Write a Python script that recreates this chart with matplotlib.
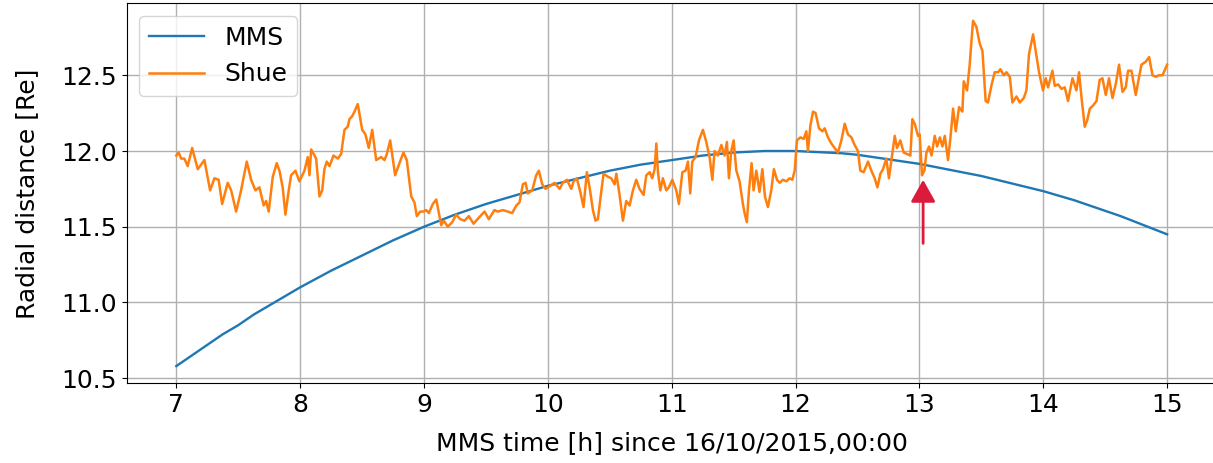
import matplotlib
matplotlib.use("Agg")
import matplotlib.pyplot as plt

# MMS radial distance
mms_t = [7.0, 7.125, 7.25, 7.375, 7.5, 7.625, 7.75, 7.875, 8.0, 8.125, 8.25, 8.375,
         8.5, 8.625, 8.75, 8.875, 9.0, 9.125, 9.25, 9.375, 9.5, 9.625, 9.75, 9.875,
         10.0, 10.125, 10.25, 10.375, 10.5, 10.625, 10.75, 10.875, 11.0, 11.125,
         11.25, 11.375, 11.5, 11.625, 11.75, 11.875, 12.0, 12.125, 12.25, 12.375,
         12.5, 12.625, 12.75, 12.875, 13.0, 13.125, 13.25, 13.375, 13.5, 13.625,
         13.75, 13.875, 14.0, 14.125, 14.25, 14.375, 14.5, 14.625, 14.75, 14.875, 15.0]
mms_r = [10.58, 10.65, 10.72, 10.79, 10.85, 10.92, 10.98, 11.04, 11.10, 11.155,
         11.21, 11.26, 11.31, 11.36, 11.41, 11.455, 11.50, 11.54, 11.58, 11.615,
         11.65, 11.68, 11.71, 11.74, 11.77, 11.795, 11.82, 11.845, 11.87, 11.89,
         11.91, 11.925, 11.94, 11.955, 11.97, 11.98, 11.99, 11.995, 12.00, 12.00,
         12.00, 11.995, 11.99, 11.985, 11.975, 11.96, 11.945, 11.93, 11.915, 11.895,
         11.875, 11.855, 11.835, 11.81, 11.785, 11.76, 11.735, 11.705, 11.675, 11.64,
         11.605, 11.57, 11.53, 11.49, 11.45]

# Shue model magnetopause distance
shue_t = [7.000, 7.019, 7.039, 7.065, 7.092, 7.128, 7.173, 7.227, 7.273, 7.308,
          7.342, 7.370, 7.415, 7.443, 7.483, 7.523, 7.569, 7.604, 7.639, 7.671,
          7.706, 7.725, 7.746, 7.779, 7.811, 7.833, 7.859, 7.881, 7.906, 7.927,
          7.962, 7.994, 8.035, 8.061, 8.075, 8.089, 8.129, 8.156, 8.178, 8.196,
          8.215, 8.237, 8.269, 8.304, 8.331, 8.358, 8.384, 8.398, 8.420, 8.439,
          8.465, 8.501, 8.527, 8.554, 8.582, 8.614, 8.654, 8.681, 8.700, 8.727,
          8.767, 8.802, 8.834, 8.861, 8.897, 8.923, 8.942, 8.969, 8.996, 9.018,
          9.039, 9.071, 9.099, 9.139, 9.160, 9.192, 9.228, 9.260, 9.292, 9.327,
          9.362, 9.400, 9.443, 9.489, 9.523, 9.569, 9.596, 9.637, 9.677, 9.712,
          9.745, 9.771, 9.798, 9.820, 9.838, 9.874, 9.906, 9.927, 9.955, 9.981,
          10.019, 10.054, 10.095, 10.121, 10.154, 10.189, 10.208, 10.234, 10.262, 10.288,
          10.315, 10.337, 10.364, 10.385, 10.404, 10.431, 10.450, 10.485, 10.512, 10.539,
          10.553, 10.579, 10.606, 10.633, 10.660, 10.687, 10.714, 10.740, 10.773, 10.795,
          10.822, 10.843, 10.862, 10.876, 10.889, 10.908, 10.929, 10.956, 10.977, 11.005,
          11.037, 11.058, 11.086, 11.112, 11.131, 11.150, 11.166, 11.193, 11.220, 11.252,
          11.279, 11.306, 11.328, 11.346, 11.373, 11.401, 11.427, 11.446, 11.462, 11.481,
          11.500, 11.522, 11.548, 11.575, 11.591, 11.607, 11.624, 11.645, 11.661, 11.683,
          11.709, 11.732, 11.753, 11.777, 11.804, 11.825, 11.850, 11.872, 11.898, 11.926,
          11.952, 11.974, 11.993, 12.011, 12.039, 12.066, 12.087, 12.100, 12.120, 12.141,
          12.162, 12.189, 12.217, 12.235, 12.262, 12.289, 12.316, 12.342, 12.370, 12.397,
          12.423, 12.451, 12.477, 12.504, 12.523, 12.550, 12.585, 12.612, 12.639, 12.661,
          12.685, 12.706, 12.733, 12.754, 12.782, 12.801, 12.819, 12.846, 12.873, 12.900,
          12.927, 12.943, 12.962, 12.989, 13.002, 13.021, 13.040, 13.057, 13.078, 13.098,
          13.124, 13.143, 13.165, 13.186, 13.205, 13.231, 13.251, 13.272, 13.294, 13.320,
          13.347, 13.358, 13.385, 13.406, 13.433, 13.460, 13.487, 13.509, 13.535, 13.554,
          13.581, 13.608, 13.635, 13.654, 13.681, 13.703, 13.730, 13.751, 13.784, 13.810,
          13.843, 13.864, 13.885, 13.918, 13.939, 13.966, 13.998, 14.020, 14.039, 14.074,
          14.093, 14.120, 14.147, 14.174, 14.200, 14.236, 14.268, 14.289, 14.308, 14.335,
          14.354, 14.376, 14.402, 14.430, 14.456, 14.478, 14.505, 14.531, 14.559, 14.585,
          14.612, 14.640, 14.666, 14.685, 14.712, 14.747, 14.774, 14.793, 14.828, 14.855,
          14.882, 14.909, 14.935, 14.963, 15.000]
shue_r = [11.97, 11.99, 11.95, 11.95, 11.90, 12.02, 11.88, 11.94, 11.74, 11.82,
          11.81, 11.65, 11.79, 11.74, 11.60, 11.74, 11.93, 11.81, 11.74, 11.76,
          11.64, 11.67, 11.60, 11.83, 11.92, 11.87, 11.76, 11.58, 11.73, 11.84,
          11.87, 11.80, 11.87, 11.96, 11.84, 12.01, 11.95, 11.70, 11.74, 11.88,
          11.93, 11.90, 11.97, 11.95, 11.98, 12.14, 12.16, 12.21, 12.23, 12.26,
          12.31, 12.14, 12.11, 12.02, 12.14, 11.94, 11.96, 11.94, 11.98, 12.07,
          11.84, 11.92, 11.99, 11.94, 11.70, 11.66, 11.57, 11.60, 11.60, 11.61,
          11.59, 11.65, 11.68, 11.51, 11.54, 11.50, 11.53, 11.58, 11.55, 11.54,
          11.57, 11.52, 11.56, 11.60, 11.55, 11.61, 11.60, 11.61, 11.60, 11.59,
          11.64, 11.66, 11.78, 11.79, 11.72, 11.74, 11.84, 11.87, 11.78, 11.75,
          11.77, 11.79, 11.75, 11.79, 11.81, 11.75, 11.80, 11.82, 11.73, 11.63,
          11.86, 11.76, 11.61, 11.54, 11.55, 11.73, 11.85, 11.83, 11.82, 11.78,
          11.85, 11.71, 11.54, 11.67, 11.64, 11.74, 11.81, 11.75, 11.71, 11.84,
          11.86, 11.82, 11.88, 12.05, 11.86, 11.74, 11.82, 11.74, 11.76, 11.81,
          11.74, 11.65, 11.86, 11.87, 11.93, 11.72, 11.93, 11.96, 12.07, 12.14,
          12.06, 11.96, 11.81, 12.00, 11.97, 12.04, 11.97, 12.06, 11.82, 12.00,
          12.07, 11.87, 11.80, 11.65, 11.58, 11.53, 11.74, 11.92, 11.74, 11.87,
          11.73, 11.88, 11.70, 11.63, 11.74, 11.88, 11.81, 11.79, 11.81, 11.80,
          11.82, 11.81, 11.87, 12.07, 12.09, 12.08, 12.13, 12.00, 12.17, 12.26,
          12.25, 12.15, 12.13, 12.15, 12.09, 12.05, 12.02, 11.99, 12.07, 12.18,
          12.11, 12.09, 12.04, 12.00, 11.87, 11.86, 11.93, 11.87, 11.82, 11.76,
          11.85, 11.88, 11.95, 11.82, 11.99, 12.10, 12.02, 12.07, 11.99, 11.98,
          11.97, 12.21, 12.18, 12.10, 12.11, 11.84, 11.87, 11.99, 12.03, 11.97,
          12.10, 12.03, 12.09, 12.03, 12.10, 11.94, 12.09, 12.28, 12.13, 12.29,
          12.26, 12.46, 12.40, 12.57, 12.86, 12.82, 12.71, 12.66, 12.33, 12.32,
          12.43, 12.52, 12.52, 12.54, 12.50, 12.52, 12.49, 12.32, 12.36, 12.32,
          12.35, 12.40, 12.64, 12.77, 12.66, 12.52, 12.40, 12.48, 12.42, 12.53,
          12.43, 12.44, 12.41, 12.42, 12.33, 12.48, 12.40, 12.52, 12.36, 12.16,
          12.20, 12.28, 12.30, 12.33, 12.47, 12.48, 12.37, 12.48, 12.35, 12.44,
          12.57, 12.39, 12.42, 12.53, 12.53, 12.37, 12.49, 12.57, 12.59, 12.62,
          12.50, 12.49, 12.50, 12.50, 12.57]

xlabel = "MMS time [h] since 16/10/2015,00:00"
ylabel = "Radial distance [Re]"
labels = ["MMS", "Shue"]

# arrow marking the event
arrow_t = 13.03
arrow_from = 11.39
arrow_to = 11.81

plt.rcParams['font.family'] = ['DejaVu Sans']
fig = plt.figure(figsize=(12.13, 4.63), dpi=100)
# the right spine falls just outside the picture, as in the reference crop
ax = fig.add_axes([0.1045, 0.172, 0.8985, 0.8205])

ax.plot(mms_t, mms_r, color='#1f77b4', lw=1.7, label=labels[0])
ax.plot(shue_t, shue_r, color='#ff7f0e', lw=1.8, label=labels[1])

ax.annotate("", xy=(arrow_t, arrow_to), xytext=(arrow_t, arrow_from),
            arrowprops=dict(arrowstyle='-|>,head_length=0.75,head_width=0.42',
                            color='#dc1a3c', lw=2.0, mutation_scale=18,
                            shrinkA=0, shrinkB=0))

ax.set_xticks([7, 8, 9, 10, 11, 12, 13, 14, 15])
ax.set_yticks([10.5, 11.0, 11.5, 12.0, 12.5])
ax.set_yticklabels(["10.5", "11.0", "11.5", "12.0", "12.5"])
ax.grid(True, color='#b0b0b0', lw=1.0)
ax.tick_params(labelsize=18)
ax.set_xlabel(xlabel, fontsize=18, labelpad=10)
ax.set_ylabel(ylabel, fontsize=18, labelpad=16)
ax.legend(loc='upper left', fontsize=18, handlelength=2.2)

fig.savefig("out.png", dpi=100)
